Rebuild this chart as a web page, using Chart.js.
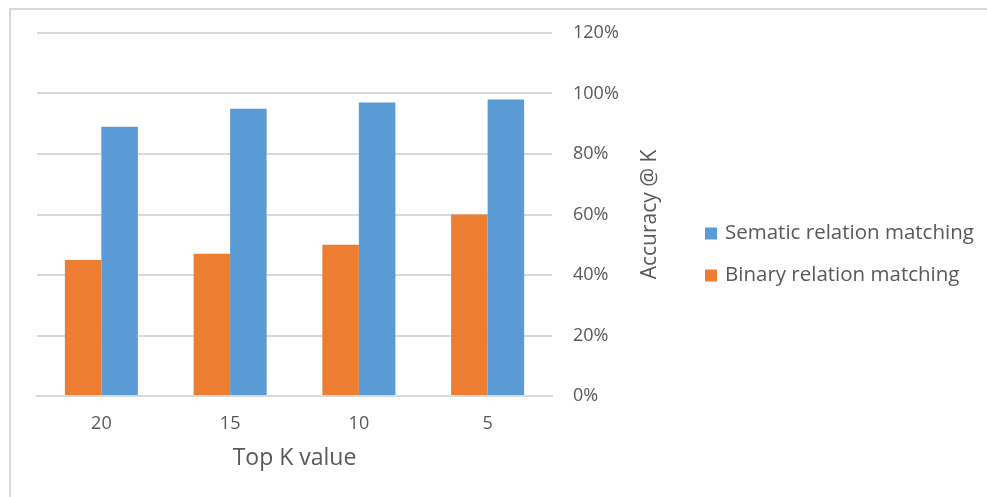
<!DOCTYPE html>
<html>
<head>
<meta charset="utf-8">
<script src="https://cdn.jsdelivr.net/npm/chart.js@4"></script>
<style>
  html, body { margin: 0; padding: 0; background: #fff; }
  #wrap { position: relative; width: 987px; height: 497px; overflow: hidden; }
  #frame { position: absolute; left: 9px; top: 8px; width: 1010px; height: 530px;
           border: 2px solid #d9d9d9; box-sizing: border-box; }
  canvas { position: absolute; left: 0; top: 0; }
</style>
</head>
<body>
<div id="wrap">
  <div id="frame"></div>
  <canvas id="c" width="987" height="497"></canvas>
</div>
<script>
// Top-K values on the category axis
const topK = ['20', '15', '10', '5'];
// Accuracy @ K, in percent
const binaryMatching  = [45, 47, 50, 60];
const sematicMatching = [89, 95, 97, 98];
// Right-hand axis range
const yMin = 0, yMax = 120, yStep = 20;

const FONT = '"Open Sans", "Noto Sans", sans-serif';
const TEXT = '#595959';
const GRID = '#d9d9d9';

// Vertical axis title drawn reading bottom-to-top beside the right axis
const rightAxisTitle = {
  id: 'rightAxisTitle',
  afterDraw(chart) {
    const s = chart.scales.y;
    const ctx = chart.ctx;
    ctx.save();
    ctx.translate(s.left + 98, (s.top + s.bottom) / 2);
    ctx.rotate(-Math.PI / 2);
    ctx.font = '21px ' + FONT;
    ctx.fillStyle = TEXT;
    ctx.textAlign = 'center';
    ctx.textBaseline = 'middle';
    ctx.fillText('Accuracy @ K', 0, 0);
    ctx.restore();
  }
};

// Legend to the right of the axis title, series listed last-to-first
const sideLegend = {
  id: 'sideLegend',
  afterDraw(chart) {
    const ctx = chart.ctx;
    const area = chart.chartArea;
    const x = area.right + 153;
    const rowGap = 42;
    const sets = chart.data.datasets.slice().reverse();
    const y0 = (area.top + area.bottom) / 2 + 40 - rowGap * (sets.length - 1) / 2;
    ctx.save();
    ctx.font = '20.5px ' + FONT;
    ctx.textBaseline = 'middle';
    ctx.textAlign = 'left';
    sets.forEach((ds, i) => {
      const y = y0 + i * rowGap;
      ctx.fillStyle = ds.backgroundColor;
      ctx.fillRect(x, y - 6, 12, 12);
      ctx.fillStyle = TEXT;
      ctx.fillText(ds.label, x + 20, y);
    });
    ctx.restore();
  }
};

new Chart(document.getElementById('c'), {
  type: 'bar',
  data: {
    labels: topK,
    datasets: [
      { label: 'Binary relation matching', data: binaryMatching,
        backgroundColor: '#ED7D31', borderWidth: 0 },
      { label: 'Sematic relation matching', data: sematicMatching,
        backgroundColor: '#5B9BD5', borderWidth: 0 }
    ]
  },
  options: {
    responsive: false,
    animation: false,
    devicePixelRatio: 1,
    layout: { padding: { left: 37, top: 33, right: 320, bottom: 25 } },
    datasets: { bar: { categoryPercentage: 0.567, barPercentage: 1.0 } },
    plugins: {
      legend: { display: false },
      tooltip: { enabled: false }
    },
    scales: {
      x: {
        grid: { display: false, drawTicks: false },
        border: { display: true, color: GRID, width: 2 },
        ticks: { color: TEXT, font: { family: FONT, size: 18 }, padding: 17 },
        title: { display: true, text: 'Top K value', color: TEXT,
                 font: { family: FONT, size: 23 }, padding: { top: 8, bottom: 0 } },
        afterFit(scale) { scale.height = 76; }
      },
      y: {
        position: 'right',
        min: yMin, max: yMax,
        grid: { color: GRID, lineWidth: 2, drawTicks: false },
        border: { display: false },
        ticks: { stepSize: yStep, color: TEXT, font: { family: FONT, size: 18 },
                 padding: 21, callback: v => v + '%' },
        afterFit(scale) { scale.width = 115; }
      }
    }
  },
  plugins: [rightAxisTitle, sideLegend]
});
</script>
</body>
</html>
